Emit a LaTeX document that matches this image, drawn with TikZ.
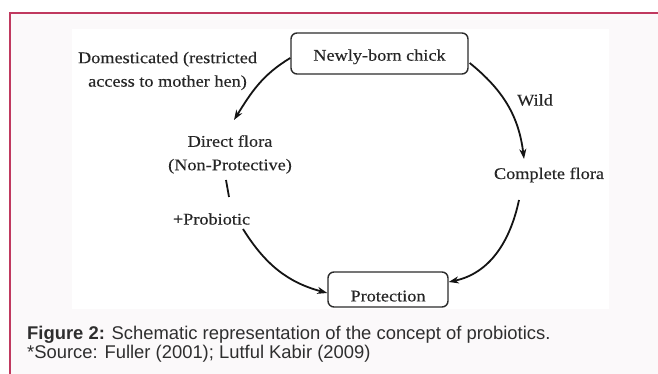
\documentclass[tikz,border=0pt]{standalone}
\usepackage{fontspec}
\usetikzlibrary{arrows.meta}
\newfontfamily\diagfont[FakeStretch=1.12,FakeBold=0.3]{Liberation Serif}
\newfontfamily\capfont{Liberation Sans}
\definecolor{framecol}{HTML}{C0395F}
\definecolor{panelbg}{HTML}{FBF9FA}
\definecolor{inkcol}{HTML}{141414}
\definecolor{txtcol}{HTML}{262626}
\definecolor{captxt}{HTML}{2E2E2E}
\tikzset{
  boxnode/.style={draw=inkcol!90, line width=1.4pt, rounded corners=6pt, fill=white, inner sep=0pt, text=txtcol,
    font=\diagfont\fontsize{16.3}{24}\selectfont},
  lbl/.style={text=txtcol, inner sep=0pt, align=center, font=\diagfont\fontsize{16.3}{23.5}\selectfont},
  conn/.style={draw=inkcol, line width=1.8pt},
  arr/.style={conn, -{Stealth[length=10pt,width=7pt,inset=3pt]}},
  captext/.style={text=captxt, inner sep=0pt, anchor=base west, font=\capfont\fontsize{18.4}{22}\selectfont}
}
\begin{document}
\begin{tikzpicture}[x=1pt,y=1pt]
\useasboundingbox (0,0) rectangle (658,374);
\fill[white] (0,0) rectangle (658,374);
\fill[panelbg] (10,0) rectangle (658,361);
\draw[framecol, line width=2pt] (10,0) -- (10,361) -- (658,361);
\fill[white] (72,65) rectangle (609,345);

\node[boxnode, minimum width=177pt, minimum height=41pt, text height=17pt, text depth=2.6pt] (chick) at (379.5,320.5) {Newly-born chick};
\node[boxnode, minimum width=120pt, minimum height=35pt, text height=26pt, text depth=2.2pt] (prot) at (388,84.5) {Protection};

\node[lbl] (dom) at (167.5,303) {Domesticated (restricted\\access to mother hen)};
\node[lbl] (direct) at (230,219.5) {Direct flora\\(Non-Protective)};
\node[lbl] (wild) at (535,274) {Wild};
\node[lbl] (complete) at (549,199) {Complete flora};
\node[lbl] (probio) at (211.5,155) {+Probiotic};

\coordinate (dT) at (234,254);
\coordinate (cT) at (524,215);
\coordinate (dB1) at (226,194);
\coordinate (dB2) at (229,177);
\coordinate (pS) at (243,145);
\coordinate (cB) at (519,174);

\draw[arr] ([yshift=-4.5pt]chick.west) to[out=211,in=58] (dT);
\draw[arr] ([xshift=1pt,yshift=-9.5pt]chick.east) to[out=321,in=97] (cT);
\draw[conn] (dB1) -- (dB2);
\draw[arr] (pS) to[out=302,in=165] ([yshift=-3.5pt]prot.west);
\draw[arr] (cB) to[out=258,in=12] ([yshift=7.5pt]prot.east);

\node[captext] (cap1) at (27,34) {\textbf{Figure 2:} Schematic representation of the concept of probiotics.};
\node[captext] (cap2) at (27,15) {*Source: Fuller (2001); Lutful Kabir (2009)};
\end{tikzpicture}
\end{document}
